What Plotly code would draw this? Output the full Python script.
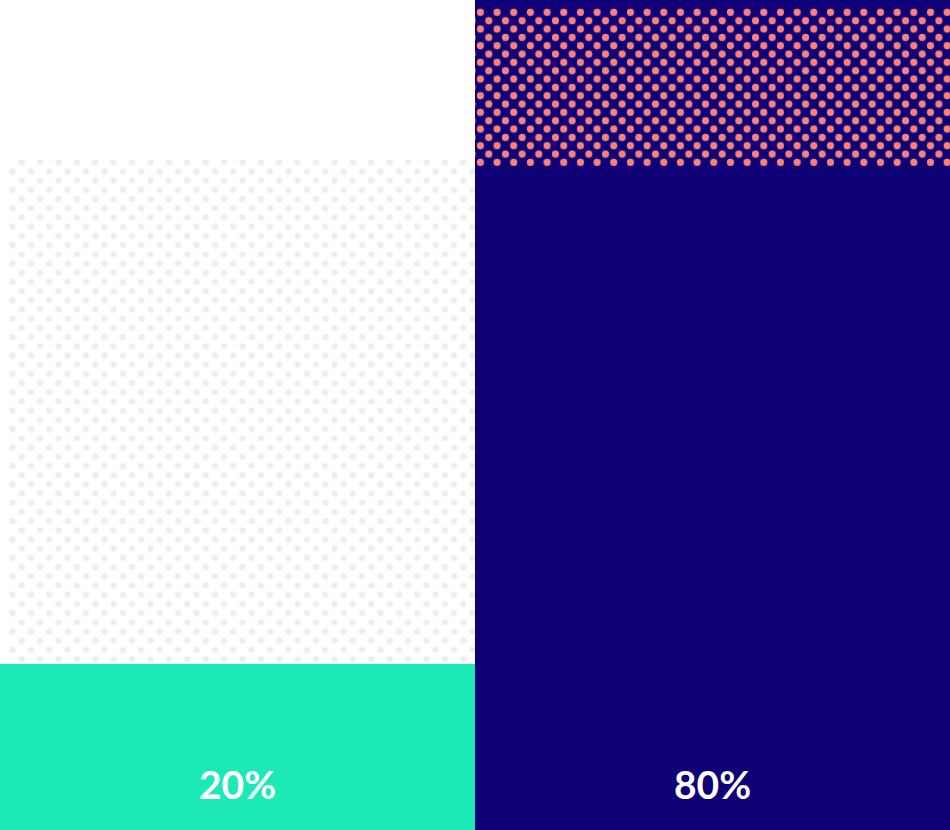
import plotly.graph_objects as go

# ---- data ----
categories = [0, 1]            # left column, right column
labels = ["20%", "80%"]
values = [20, 80]              # filled share (percent)
rest = [60.7, 20]              # patterned remainder above the fill

# ---- style ----
W, H = 950, 830
fill_colors = ["#1de9b6", "#100078"]
rest_colors = ["#ffffff", "#100078"]
dot_colors = ["#eeeef0", "#fb8179"]
dot_size = [18.4, 16.67]
dot_solid = [0.095, 0.145]
# two staggered dot lattices per column (pixel origins of each tile grid)
lattice_origins = [[(12.5, 5.9), (3.3, 15.1)], [(5.3, 4.0), (13.7, 12.4)]]

fig = go.Figure()

# solid value bars
fig.add_trace(go.Bar(x=categories, y=values, base=[0, 0], width=1,
                     marker=dict(color=fill_colors, line=dict(width=0)),
                     hoverinfo="skip", xaxis="x", yaxis="y"))
# remainder background
fig.add_trace(go.Bar(x=categories, y=rest, base=values, width=1,
                     marker=dict(color=rest_colors, line=dict(width=0)),
                     hoverinfo="skip", xaxis="x", yaxis="y"))

sx = W / 2.0
sy = H / 100.0
axes_extra = {}
n = 2
for i in range(len(categories)):
    for (ox, oy) in lattice_origins[i]:
        ax, ay = "x%d" % n, "y%d" % n
        fig.add_trace(go.Bar(x=[categories[i]], y=[rest[i]], base=[values[i]], width=1,
                             marker=dict(color="rgba(0,0,0,0)", line=dict(width=0),
                                         pattern=dict(shape=".", fgcolor=dot_colors[i],
                                                      bgcolor="rgba(0,0,0,0)",
                                                      size=dot_size[i], solidity=dot_solid[i],
                                                      fillmode="replace")),
                             hoverinfo="skip", xaxis=ax, yaxis=ay))
        axes_extra["xaxis%d" % n] = dict(domain=[ox / W, 1], range=[-0.5 + ox / sx, 1.5],
                                         visible=False, fixedrange=True, anchor=ay)
        axes_extra["yaxis%d" % n] = dict(domain=[0, 1 - oy / H], range=[0, 100 - oy / sy],
                                         visible=False, fixedrange=True, anchor=ax)
        n += 1

for c, t in zip(categories, labels):
    fig.add_annotation(x=c, y=0, xref="x", yref="y", text=t, showarrow=False,
                       yanchor="bottom", yshift=21,
                       font=dict(family="Lato", size=39, color="#ffffff", weight=700))

fig.update_layout(
    width=W, height=H,
    margin=dict(l=0, r=0, t=0, b=0),
    paper_bgcolor="#ffffff", plot_bgcolor="rgba(0,0,0,0)",
    barmode="overlay", bargap=0, showlegend=False,
    xaxis=dict(range=[-0.5, 1.5], domain=[0, 1], visible=False, fixedrange=True),
    yaxis=dict(range=[0, 100], domain=[0, 1], visible=False, fixedrange=True),
    **axes_extra,
)

fig.write_html("out.html", config={"displayModeBar": False},
               post_script="document.body.style.margin='0';document.body.style.padding='0';")
